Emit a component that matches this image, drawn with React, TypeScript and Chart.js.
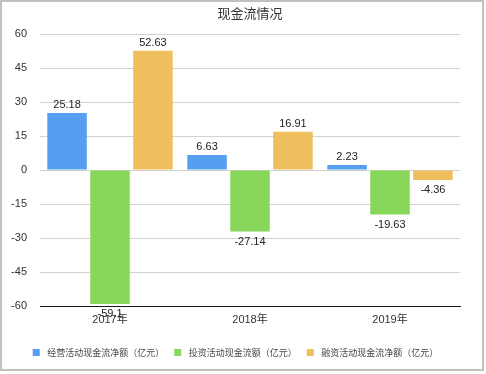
import React, { useEffect, useRef } from 'react';
import { Chart, registerables } from 'chart.js';

Chart.register(...registerables);

const chartTitle = '现金流情况';
const categories = ['2017年', '2018年', '2019年'];
const seriesNames = ['经营活动现金流净额（亿元）', '投资活动现金流额（亿元）', '融资活动现金流净额（亿元）'];
const operatingValues = [25.18, 6.63, 2.23];
const investingValues = [-59.1, -27.14, -19.63];
const financingValues = [52.63, 16.91, -4.36];
const seriesColors = ['#569ff0', '#88d75a', '#eebf5c'];
const yMin = -60;
const yMax = 60;
const yStep = 15;

const latinFont = '"Liberation Sans", Arial, Helvetica, "Noto Sans CJK SC", sans-serif';
const cjkFont = '"Noto Sans CJK SC", "Liberation Sans", sans-serif';

const valueLabelPlugin = {
  id: 'valueLabels',
  afterDatasetsDraw(chart: any) {
    const ctx = chart.ctx;
    ctx.save();
    ctx.font = `11px ${latinFont}`;
    ctx.fillStyle = '#222';
    ctx.textAlign = 'center';
    ctx.textBaseline = 'alphabetic';
    chart.data.datasets.forEach((ds: any, i: number) => {
      const meta = chart.getDatasetMeta(i);
      meta.data.forEach((bar: any, j: number) => {
        const v = ds.data[j];
        if (v >= 0) ctx.fillText(String(v), bar.x, bar.y - 4.5);
        else ctx.fillText(String(v), bar.x, bar.y + 13.5);
      });
    });
    ctx.restore();
  },
};

const titleLegendPlugin = {
  id: 'titleLegend',
  afterDraw(chart: any) {
    const ctx = chart.ctx;
    const area = chart.chartArea;
    ctx.save();
    // title
    ctx.font = `13px ${cjkFont}`;
    ctx.fillStyle = '#333';
    ctx.textAlign = 'center';
    ctx.textBaseline = 'middle';
    ctx.fillText(chartTitle, (area.left + area.right) / 2, 13);

    // legend
    ctx.font = `9px ${cjkFont}`;
    const box = 7;
    const gap = 7.5;
    const itemPad = 10;
    const widths = chart.data.datasets.map((ds: any) => box + gap + ctx.measureText(ds.label).width);
    const total = widths.reduce((a: number, b: number) => a + b, 0) + itemPad * (widths.length - 1);
    let x = (area.left + area.right) / 2 - 14.5 - total / 2;
    const y = 352.5;
    ctx.textAlign = 'left';
    chart.data.datasets.forEach((ds: any, i: number) => {
      ctx.fillStyle = ds.backgroundColor;
      ctx.fillRect(x, y - box / 2, box, box);
      ctx.fillStyle = '#444';
      ctx.fillText(ds.label, x + box + gap, y + 0.5);
      x += widths[i] + itemPad;
    });
    ctx.restore();
  },
};

export default function App() {
  const canvasRef = useRef<HTMLCanvasElement | null>(null);

  useEffect(() => {
    if (!canvasRef.current) return;
    const seriesValues = [operatingValues, investingValues, financingValues];
    const chart = new Chart(canvasRef.current, {
      type: 'bar',
      data: {
        labels: categories,
        datasets: seriesNames.map((name, i) => ({
          label: name,
          data: seriesValues[i],
          backgroundColor: seriesColors[i],
          borderWidth: 0,
          categoryPercentage: 0.92,
          barPercentage: 0.92,
        })),
      },
      options: {
        responsive: false,
        animation: false,
        layout: { padding: { top: 34, right: 26, left: 0, bottom: 0 } },
        plugins: {
          legend: { display: false },
          title: { display: false },
          tooltip: { enabled: false },
        },
        scales: {
          x: {
            grid: { display: false, drawTicks: false },
            border: { display: true, color: '#1a1a1a', width: 1 },
            ticks: { padding: 7, color: '#333', font: { family: latinFont, size: 11 } },
            afterFit: (s: any) => {
              s.height = 68;
            },
          },
          y: {
            min: yMin,
            max: yMax,
            ticks: { stepSize: yStep, padding: 13, color: '#333', font: { family: latinFont, size: 11 } },
            grid: { color: '#d2d2d2', drawTicks: false, lineWidth: 1 },
            border: { display: false },
            afterFit: (s: any) => {
              s.width = 40;
            },
          },
        },
      },
      plugins: [valueLabelPlugin, titleLegendPlugin],
    } as any);
    return () => chart.destroy();
  }, []);

  return (
    <div style={{ position: 'fixed', left: 0, top: 0, width: 486, height: 374, background: '#fff' }}>
      <canvas
        ref={canvasRef}
        width={486}
        height={374}
        style={{ position: 'absolute', left: 0, top: 0, width: 486, height: 374, display: 'block' }}
      />
      <div
        style={{
          position: 'absolute',
          left: 0,
          top: 0,
          width: 484,
          height: 371,
          boxSizing: 'border-box',
          border: '2px solid #c2c2bd',
          pointerEvents: 'none',
        }}
      />
    </div>
  );
}
